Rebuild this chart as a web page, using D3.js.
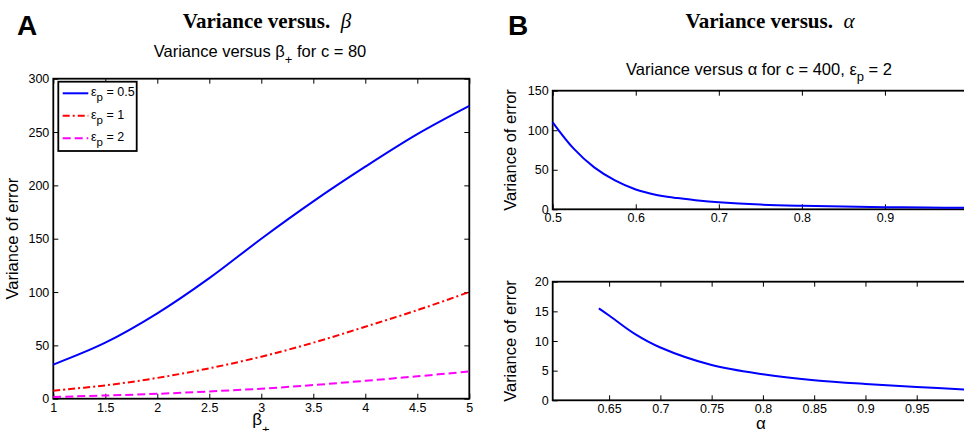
<!DOCTYPE html>
<html>
<head>
<meta charset="utf-8">
<script src="https://cdn.jsdelivr.net/npm/d3@7"></script>
<style>
  body { margin: 0; background: #fff; }
  svg { display: block; overflow: hidden; }
</style>
</head>
<body>
<script>
// panel A: variance vs beta+ (c = 80)
const betaVals = [1, 1.5, 2, 2.5, 3, 3.5, 4, 4.5, 5];
const varEps05 = [32, 52.5, 80, 113, 150, 185, 217.5, 248, 274.5];
const varEps1 = [7.5, 12.5, 19.5, 28.5, 39.4, 52.5, 67.5, 83, 100];
const varEps2 = [1.6, 3, 4.6, 6.8, 9.4, 12.8, 16.8, 21, 25.5];
const epsLabels = ["0.5", "1", "2"];

// panel B: variance vs alpha (c = 400, eps_p = 2)
const alphaVals = [0.5, 0.525, 0.55, 0.575, 0.6, 0.625, 0.64, 0.65, 0.675, 0.7, 0.75, 0.8, 0.85, 0.9, 0.95, 1.0];
const varAlpha = [110, 77, 53, 36.5, 25, 18.2, 15.5, 14.3, 11.2, 8.9, 5.95, 4.4, 3.4, 2.75, 2.24, 1.8];
const alphaCut = 0.64;

const xTicksA = [1, 1.5, 2, 2.5, 3, 3.5, 4, 4.5, 5];
const yTicksA = [0, 50, 100, 150, 200, 250, 300];
const xTicksB1 = [0.5, 0.6, 0.7, 0.8, 0.9];
const yTicksB1 = [0, 50, 100, 150];
const xTicksB2 = [0.65, 0.7, 0.75, 0.8, 0.85, 0.9, 0.95];
const yTicksB2 = [0, 5, 10, 15, 20];

const sans = "'Liberation Sans', Arial, sans-serif";
const serif = "'Liberation Serif', 'Times New Roman', serif";

const svg = d3.select("body").append("svg")
  .attr("width", 964)
  .attr("height", 431)
  .style("font-family", sans);

function frame(x, y, xt, yt, rightTicks) {
  const g = svg.append("g");
  const [x0, x1] = x.range(), [y0, y1] = y.range();

  g.append("g")
    .attr("transform", `translate(0,${y0})`)
    .call(d3.axisBottom(x).tickValues(xt).tickSize(-5).tickSizeOuter(0).tickPadding(4).tickFormat(d => String(d)));
  g.append("g")
    .attr("transform", `translate(0,${y1})`)
    .call(d3.axisTop(x).tickValues(xt).tickSize(-5).tickSizeOuter(0).tickFormat(""));
  g.append("g")
    .attr("transform", `translate(${x0},0)`)
    .call(d3.axisLeft(y).tickValues(yt).tickSize(-5).tickSizeOuter(0).tickPadding(4).tickFormat(d => String(d)));
  if (rightTicks) {
    g.append("g")
      .attr("transform", `translate(${x1},0)`)
      .call(d3.axisRight(y).tickValues(yt).tickSize(-5).tickSizeOuter(0).tickFormat(""));
  }

  g.selectAll(".domain").remove();
  g.selectAll(".tick line").attr("stroke", "#000").attr("stroke-width", 1);
  g.selectAll(".tick text").attr("font-size", 12.5).attr("font-family", sans).attr("fill", "#000");

  g.append("rect")
    .attr("x", x0).attr("y", y1)
    .attr("width", x1 - x0).attr("height", y0 - y1)
    .attr("fill", "none").attr("stroke", "#000").attr("stroke-width", 1.8);
  return g;
}

function ylabel(cx, cy) {
  svg.append("text")
    .attr("transform", `translate(${cx},${cy}) rotate(-90)`)
    .attr("text-anchor", "middle")
    .attr("font-size", 16.5)
    .text("Variance of error");
}

const smooth = d3.curveCatmullRom.alpha(0.5);

// ---------- panel A ----------
const xA = d3.scaleLinear().domain([1, 5]).range([53.3, 469.3]);
const yA = d3.scaleLinear().domain([0, 300]).range([398.7, 78.7]);

frame(xA, yA, xTicksA, yTicksA, true);

const seriesA = [
  { vals: varEps05, color: "#0000ff", dash: null },
  { vals: varEps1, color: "#ff0000", dash: "7,3,2,3" },
  { vals: varEps2, color: "#ff00ff", dash: "8,4" }
];

const lineA = d3.line()
  .x((d, i) => xA(betaVals[i]))
  .y(d => yA(d))
  .curve(smooth);

seriesA.forEach(s => {
  svg.append("path")
    .datum(s.vals)
    .attr("d", lineA)
    .attr("fill", "none")
    .attr("stroke", s.color)
    .attr("stroke-width", 2)
    .attr("stroke-dasharray", s.dash);
});

// legend
const leg = svg.append("g");
leg.append("rect")
  .attr("x", 58.3).attr("y", 81.7)
  .attr("width", 78.4).attr("height", 69.3)
  .attr("fill", "#fff").attr("stroke", "#000").attr("stroke-width", 1.8);
seriesA.forEach((s, i) => {
  const ly = 93.3 + i * 22.5;
  leg.append("line")
    .attr("x1", 62.7).attr("x2", 88.3)
    .attr("y1", ly).attr("y2", ly)
    .attr("stroke", s.color).attr("stroke-width", 2)
    .attr("stroke-dasharray", s.dash);
  const t = leg.append("text")
    .attr("x", 91).attr("y", ly + 3)
    .attr("font-size", 12.5);
  t.append("tspan").text("ε");
  t.append("tspan").attr("dy", 5).attr("font-size", 11.5).text("p");
  t.append("tspan").attr("dy", -5).text(" = " + epsLabels[i]);
});

// titles A
svg.append("text")
  .attr("x", 17).attr("y", 35)
  .attr("font-size", 28).attr("font-weight", "bold")
  .text("A");

const tA = svg.append("text")
  .attr("x", 267).attr("y", 28)
  .attr("text-anchor", "middle")
  .attr("font-family", serif)
  .attr("font-size", 21);
tA.append("tspan").attr("font-weight", "bold").text("Variance versus.");
tA.append("tspan").attr("font-style", "italic").text("\u2002β");

const sA = svg.append("text")
  .attr("x", 260).attr("y", 57)
  .attr("text-anchor", "middle")
  .attr("font-size", 16.5);
sA.append("tspan").text("Variance versus β");
sA.append("tspan").attr("dy", 7).attr("font-size", 13).text("+");
sA.append("tspan").attr("dy", -7).text(" for c = 80");

ylabel(18, 238.7);

const xlA = svg.append("text")
  .attr("x", 261).attr("y", 425)
  .attr("text-anchor", "middle")
  .attr("font-size", 17);
xlA.append("tspan").text("β");
xlA.append("tspan").attr("dy", 9).attr("font-size", 13).text("+");

// ---------- panel B ----------
const xB1 = d3.scaleLinear().domain([0.5, 1]).range([552.7, 968]);
const yB1 = d3.scaleLinear().domain([0, 150]).range([209.3, 90.7]);
frame(xB1, yB1, xTicksB1, yTicksB1, false);

svg.append("path")
  .datum(alphaVals.map((a, i) => [a, varAlpha[i]]))
  .attr("d", d3.line().x(d => xB1(d[0])).y(d => yB1(d[1])).curve(smooth))
  .attr("fill", "none").attr("stroke", "#0000ff").attr("stroke-width", 2);

const xB2 = d3.scaleLinear().domain([0.595, 1]).range([552.7, 968]);
const yB2 = d3.scaleLinear().domain([0, 20]).range([400.3, 281.7]);
frame(xB2, yB2, xTicksB2, yTicksB2, false);

svg.append("path")
  .datum(alphaVals.map((a, i) => [a, varAlpha[i]]).filter(d => d[0] >= alphaCut))
  .attr("d", d3.line().x(d => xB2(d[0])).y(d => yB2(d[1])).curve(smooth))
  .attr("fill", "none").attr("stroke", "#0000ff").attr("stroke-width", 2);

svg.append("text")
  .attr("x", 508).attr("y", 35)
  .attr("font-size", 28).attr("font-weight", "bold")
  .text("B");

const tB = svg.append("text")
  .attr("x", 770).attr("y", 28)
  .attr("text-anchor", "middle")
  .attr("font-family", serif)
  .attr("font-size", 21);
tB.append("tspan").attr("font-weight", "bold").text("Variance versus.");
tB.append("tspan").attr("font-style", "italic").text("\u2002α");

const sB = svg.append("text")
  .attr("x", 759).attr("y", 75)
  .attr("text-anchor", "middle")
  .attr("font-size", 16.5);
sB.append("tspan").text("Variance versus α for c = 400, ε");
sB.append("tspan").attr("dy", 6).attr("font-size", 13).text("p");
sB.append("tspan").attr("dy", -6).text(" = 2");

ylabel(516, 150);
ylabel(516, 341);

svg.append("text")
  .attr("x", 761).attr("y", 429)
  .attr("text-anchor", "middle")
  .attr("font-size", 17)
  .text("α");
</script>
</body>
</html>
